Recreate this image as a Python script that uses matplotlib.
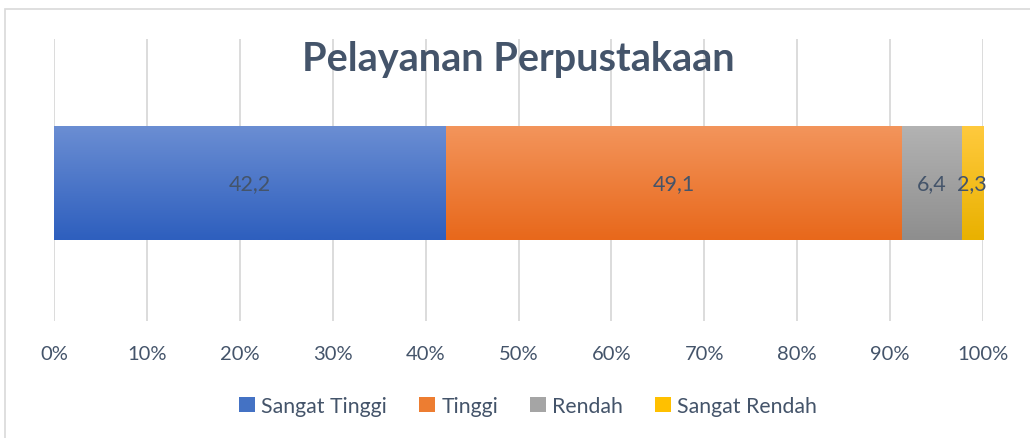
import matplotlib.pyplot as plt
import numpy as np
from matplotlib.patches import Rectangle
from matplotlib.colors import LinearSegmentedColormap

# data
categories = ['Sangat Tinggi', 'Tinggi', 'Rendah', 'Sangat Rendah']
values = [42.2, 49.1, 6.4, 2.3]
labels = ['42,2', '49,1', '6,4', '2,3']
# (top colour, mid colour, bottom colour) of the Excel-like gradient
grad_colors = [('#6B8ED3', '#4472C4', '#2E5FBE'),
               ('#F3955C', '#ED7D31', '#E8681B'),
               ('#B3B3B3', '#A5A5A5', '#8E8E8E'),
               ('#FFCA3E', '#FFC000', '#E9B100')]
ticks = np.arange(0, 101, 10)
tick_labels = [f'{t}%' for t in ticks]

txt_color = '#44546A'
plt.rcParams['font.family'] = ['Lato', 'DejaVu Sans']

fig = plt.figure(figsize=(10.3, 4.39), dpi=100)
ax = fig.add_axes([54 / 1030, 1 - 322 / 439, 929 / 1030, 282 / 439])

# outer chart border
fig.patches.append(Rectangle((5 / 1030, -0.05), 1.1, 1 - 10 / 439 + 0.05,
                             transform=fig.transFigure, fill=False,
                             edgecolor='#D9D9D9', linewidth=1.2))

total = sum(values)
pct = [v / total * 100 for v in values]
left = 0
bar_h = 0.405
yc = -0.01
for cat, p, lab, (c_top, c_mid, c_bot) in zip(categories, pct, labels, grad_colors):
    bar = ax.barh(yc, p, left=left, height=bar_h, color=c_mid, label=cat, zorder=2)[0]
    cmap = LinearSegmentedColormap.from_list(cat, [c_bot, c_top])
    grad = np.linspace(0, 1, 100).reshape(-1, 1)
    im = ax.imshow(grad, cmap=cmap, aspect='auto', origin='lower',
                   extent=(left, left + p, yc - bar_h / 2, yc + bar_h / 2), zorder=3)
    im.set_clip_path(bar)
    ax.text(left + p / 2, yc, lab, ha='center', va='center', fontsize=15.5,
            color=txt_color, zorder=4)
    left += p

ax.set_xlim(0, 100)
ax.set_ylim(-0.5, 0.5)
ax.set_xticks(ticks)
ax.set_xticklabels(tick_labels)
ax.set_yticks([])
ax.tick_params(axis='x', length=0, pad=17, labelsize=14.5, labelcolor=txt_color)
ax.grid(axis='x', color='#D9D9D9', linewidth=1.3, zorder=0)
for s in ax.spines.values():
    s.set_visible(False)

cx = 0.5 + 0.5 * (54 + 983 - 1030) / 1030
fig.text(cx, 1 - 60 / 439, 'Pelayanan Perpustakaan',
         ha='center', va='center', fontsize=28.5, fontweight='bold', color=txt_color)

leg = fig.legend(loc='center', bbox_to_anchor=(0.5 * (244 + 812) / 1030, 1 - 407 / 439),
                 ncol=4, frameon=False, fontsize=15.3, handlelength=0.75, handleheight=0.75,
                 handletextpad=0.3, columnspacing=1.5)
for t in leg.get_texts():
    t.set_color(txt_color)

fig.savefig('out.png', dpi=100)
